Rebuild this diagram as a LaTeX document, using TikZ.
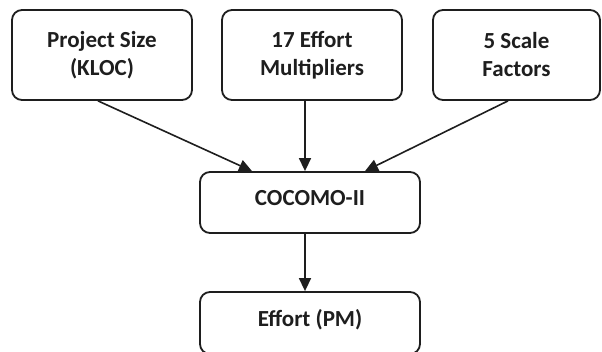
\documentclass[tikz,border=0pt]{standalone}
\usepackage{fontspec}
\setmainfont{Carlito}
\usetikzlibrary{arrows.meta}
\definecolor{ink}{HTML}{1E1E1E}
\tikzset{
  box/.style={draw=ink, line width=1.8pt, rounded corners=10pt, fill=white,
    inner sep=0pt, align=center, text=ink,
    font=\fontsize{23}{28}\selectfont\bfseries},
  onebox/.style={box, text height=15pt, text depth=8pt},
  arr/.style={draw=ink, line width=1.6pt, -{Triangle[length=13pt,width=12pt]}}
}
\begin{document}
\begin{tikzpicture}[x=1pt,y=1pt]
\useasboundingbox (0,0) rectangle (602,352);
\clip (0,0) rectangle (602,352);
\fill[white] (0,0) rectangle (602,352);
\node[box, minimum width=180pt, minimum height=90pt] (b1) at (102,297) {Project Size\\(KLOC)};
\node[box, minimum width=180pt, minimum height=90pt] (b2) at (312,297) {17 Effort\\Multipliers};
\node[box, minimum width=167pt, minimum height=90pt] (b3) at (516.5,297) {5 Scale\\Factors};
\node[onebox, minimum width=220pt, minimum height=61pt] (coc) at (310,149.5) {COCOMO-II};
\node[onebox, minimum width=220pt, minimum height=62pt] (eff) at (310,29) {Effort (PM)};
\draw[arr] ([xshift=-4pt]b1.south) -- ([xshift=-58pt]coc.north);
\draw[arr] ([xshift=-7pt]b2.south) -- ([xshift=-5pt]coc.north);
\draw[arr] ([xshift=-8.5pt]b3.south) -- ([xshift=55pt]coc.north);
\draw[arr] ([xshift=-5pt]coc.south) -- ([xshift=-5pt]eff.north);
\end{tikzpicture}
\end{document}
